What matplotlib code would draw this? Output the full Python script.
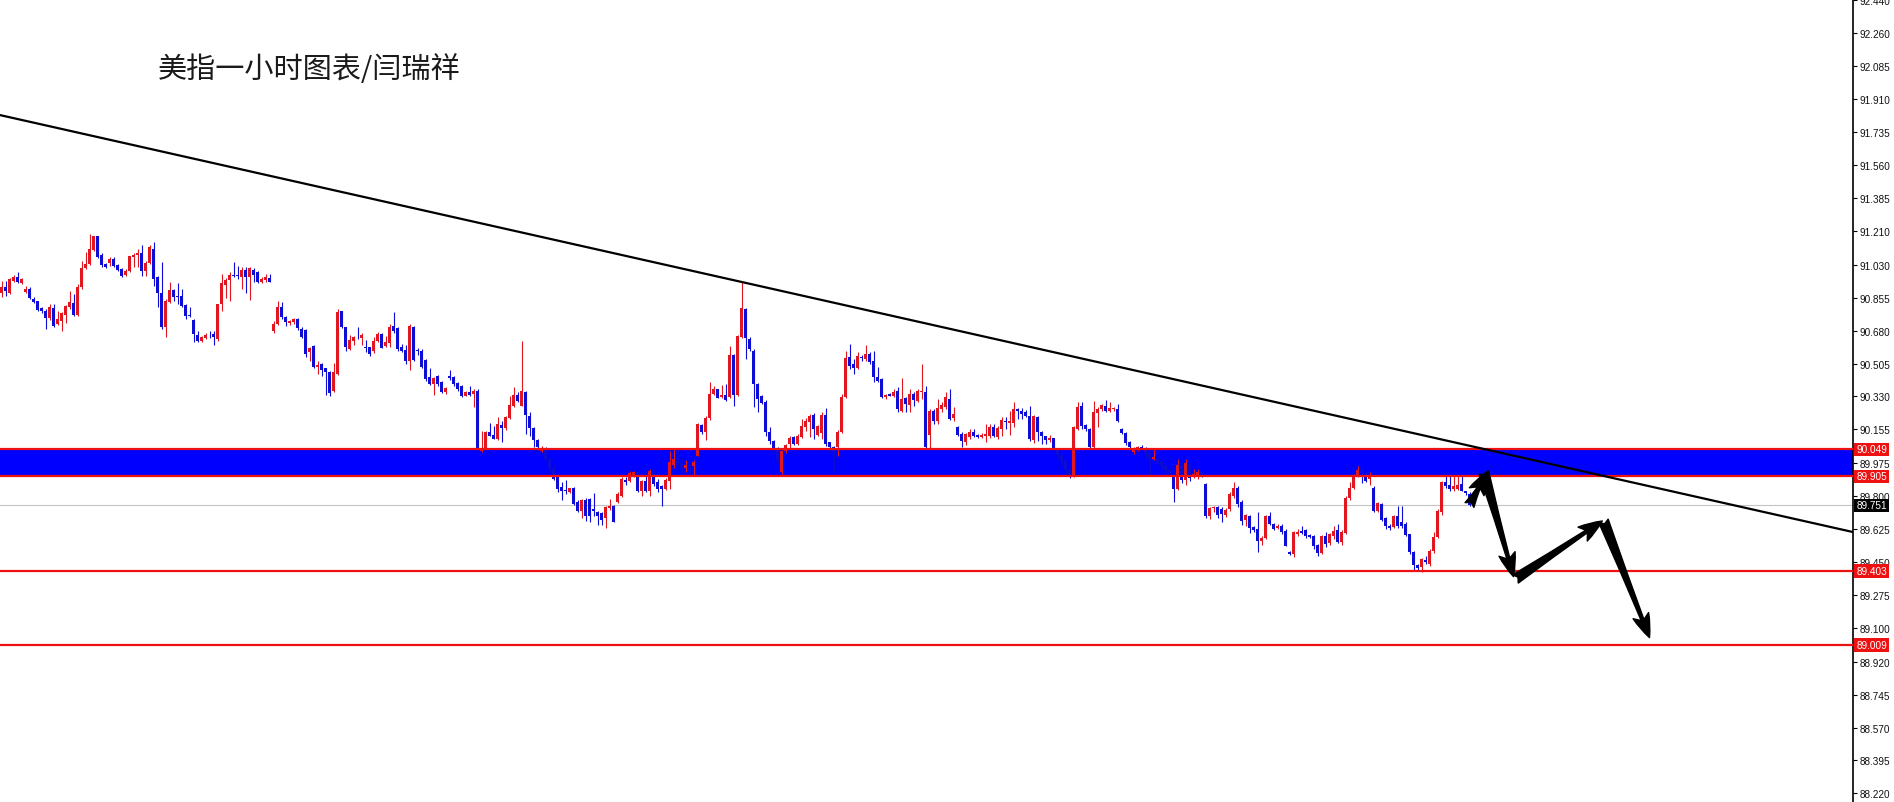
import matplotlib
matplotlib.use("Agg")
import numpy as np
from matplotlib import pyplot as plt
from matplotlib.patches import ArrowStyle
from matplotlib.transforms import blended_transform_factory

# USD index, 1h candles
opens = [
    90.878, 90.914, 90.882, 90.946, 90.963, 90.931, 90.887, 90.901, 90.848, 90.836,
    90.800, 90.786, 90.747, 90.800, 90.715, 90.733, 90.765, 90.807, 90.829, 90.761,
    90.910, 91.013, 91.034, 91.109, 91.181, 91.084, 91.034, 91.038, 91.061, 91.031,
    91.008, 90.976, 90.999, 91.073, 91.082, 91.093, 90.999, 91.041, 91.116, 90.963,
    90.882, 90.701, 90.830, 90.896, 90.866, 90.866, 90.818, 90.763, 90.737, 90.659,
    90.627, 90.641, 90.657, 90.662, 90.635, 90.822, 90.924, 90.949, 90.977, 90.976,
    90.963, 91.002, 90.963, 91.002, 90.990, 90.937, 90.949, 90.960, 90.676, 90.715,
    90.807, 90.754, 90.719, 90.724, 90.742, 90.689, 90.683, 90.565, 90.600, 90.488,
    90.503, 90.481, 90.462, 90.357, 90.449, 90.783, 90.698, 90.582, 90.627, 90.648,
    90.639, 90.595, 90.591, 90.574, 90.627, 90.663, 90.597, 90.615, 90.703, 90.693,
    90.592, 90.577, 90.521, 90.698, 90.579, 90.574, 90.526, 90.432, 90.397, 90.437,
    90.406, 90.352, 90.437, 90.432, 90.402, 90.384, 90.335, 90.356, 90.344, 90.361,
    90.042, 90.055, 90.140, 90.126, 90.104, 90.179, 90.161, 90.214, 90.278, 90.338,
    90.281, 90.356, 90.228, 90.161, 90.101, 90.042, 90.051, 90.000, 89.945, 89.901,
    89.847, 89.835, 89.821, 89.842, 89.768, 89.723, 89.782, 89.785, 89.732, 89.715,
    89.711, 89.683, 89.736, 89.750, 89.770, 89.803, 89.888, 89.883, 89.913, 89.927,
    89.830, 89.878, 89.830, 89.923, 89.874, 89.853, 89.839, 89.883, 89.963, 90.000,
    89.975, 89.950, 89.965, 89.960, 90.016, 90.179, 90.140, 90.214, 90.344, 90.367,
    90.326, 90.338, 90.326, 90.551, 90.338, 90.646, 90.795, 90.636, 90.574, 90.397,
    90.335, 90.303, 90.143, 90.095, 90.051, 89.927, 90.042, 90.078, 90.113, 90.078,
    90.113, 90.166, 90.193, 90.232, 90.126, 90.136, 90.232, 90.087, 90.060, 90.060,
    90.140, 90.326, 90.538, 90.503, 90.480, 90.538, 90.530, 90.556, 90.521, 90.432,
    90.423, 90.326, 90.343, 90.335, 90.361, 90.255, 90.320, 90.285, 90.343, 90.308,
    90.352, 90.356, 90.126, 90.255, 90.202, 90.264, 90.273, 90.317, 90.214, 90.166,
    90.131, 90.090, 90.113, 90.140, 90.126, 90.113, 90.122, 90.118, 90.166, 90.113,
    90.157, 90.202, 90.189, 90.189, 90.264, 90.255, 90.249, 90.225, 90.101, 90.219,
    90.140, 90.118, 90.101, 90.108, 90.051, 90.020, 89.985, 89.940, 89.909, 90.157,
    90.281, 90.179, 90.157, 90.060, 90.242, 90.264, 90.281, 90.251, 90.262, 90.264,
    90.157, 90.134, 90.086, 90.033, 90.045, 90.062, 90.058, 90.030, 90.000, 90.000,
    89.980, 89.960, 89.940, 89.906, 89.838, 89.966, 89.888, 89.971, 89.902, 89.909,
    89.930, 89.865, 89.697, 89.736, 89.741, 89.732, 89.700, 89.732, 89.803, 89.842,
    89.771, 89.675, 89.697, 89.634, 89.626, 89.564, 89.576, 89.697, 89.652, 89.629,
    89.643, 89.617, 89.505, 89.493, 89.599, 89.617, 89.622, 89.594, 89.590, 89.541,
    89.498, 89.590, 89.551, 89.590, 89.622, 89.555, 89.604, 89.789, 89.842, 89.906,
    89.940, 89.913, 89.892, 89.842, 89.723, 89.759, 89.682, 89.643, 89.635, 89.693,
    89.661, 89.652, 89.599, 89.502, 89.434, 89.422, 89.463, 89.440, 89.511, 89.582,
    89.718, 89.874, 89.860, 89.838, 89.840, 89.865, 89.829, 89.812,
]
highs = [
    90.946, 90.946, 90.960, 90.976, 90.990, 90.960, 90.919, 90.910, 90.861, 90.839,
    90.807, 90.795, 90.822, 90.822, 90.786, 90.777, 90.818, 90.889, 90.875, 90.928,
    91.052, 91.096, 91.194, 91.185, 91.183, 91.091, 91.038, 91.070, 91.073, 91.034,
    91.013, 91.008, 91.078, 91.091, 91.114, 91.135, 91.052, 91.137, 91.149, 90.972,
    91.043, 90.848, 90.937, 90.901, 90.931, 90.901, 90.822, 90.804, 90.742, 90.680,
    90.653, 90.666, 90.676, 90.676, 90.822, 90.981, 90.958, 90.990, 91.043, 91.025,
    91.020, 91.016, 91.020, 91.011, 90.999, 90.963, 90.981, 90.981, 90.729, 90.836,
    90.830, 90.760, 90.737, 90.747, 90.747, 90.698, 90.689, 90.595, 90.605, 90.520,
    90.506, 90.481, 90.467, 90.506, 90.795, 90.786, 90.701, 90.657, 90.653, 90.698,
    90.666, 90.630, 90.595, 90.645, 90.671, 90.666, 90.654, 90.716, 90.778, 90.698,
    90.609, 90.604, 90.716, 90.703, 90.586, 90.583, 90.530, 90.480, 90.432, 90.444,
    90.414, 90.382, 90.468, 90.437, 90.409, 90.391, 90.361, 90.388, 90.367, 90.367,
    90.144, 90.149, 90.189, 90.175, 90.219, 90.202, 90.228, 90.331, 90.379, 90.352,
    90.627, 90.361, 90.246, 90.166, 90.104, 90.069, 90.060, 90.010, 89.960, 89.910,
    89.874, 89.888, 89.845, 89.847, 89.777, 89.785, 89.789, 89.789, 89.817, 89.723,
    89.718, 89.745, 89.785, 89.754, 89.821, 89.901, 89.901, 89.936, 89.936, 89.936,
    89.888, 89.927, 89.945, 89.945, 89.892, 89.860, 89.895, 90.042, 90.051, 90.050,
    90.010, 89.990, 89.972, 89.990, 90.189, 90.184, 90.228, 90.406, 90.388, 90.370,
    90.391, 90.397, 90.597, 90.556, 90.657, 90.937, 90.800, 90.645, 90.583, 90.400,
    90.340, 90.310, 90.166, 90.100, 90.060, 90.045, 90.078, 90.122, 90.118, 90.130,
    90.211, 90.214, 90.237, 90.240, 90.180, 90.246, 90.267, 90.090, 90.065, 90.150,
    90.343, 90.574, 90.609, 90.530, 90.565, 90.551, 90.604, 90.565, 90.569, 90.485,
    90.430, 90.343, 90.350, 90.370, 90.379, 90.427, 90.326, 90.370, 90.352, 90.370,
    90.503, 90.388, 90.264, 90.264, 90.317, 90.303, 90.356, 90.367, 90.273, 90.172,
    90.140, 90.136, 90.157, 90.157, 90.130, 90.136, 90.184, 90.184, 90.184, 90.172,
    90.219, 90.219, 90.255, 90.299, 90.267, 90.267, 90.260, 90.278, 90.232, 90.225,
    90.149, 90.122, 90.126, 90.110, 90.055, 90.030, 89.995, 89.960, 90.175, 90.299,
    90.303, 90.184, 90.161, 90.308, 90.273, 90.290, 90.313, 90.300, 90.275, 90.290,
    90.160, 90.140, 90.093, 90.060, 90.069, 90.070, 90.060, 90.040, 90.053, 90.010,
    89.990, 89.970, 89.950, 89.920, 89.998, 89.980, 89.998, 89.980, 89.945, 89.945,
    89.935, 89.872, 89.740, 89.750, 89.746, 89.740, 89.735, 89.821, 89.874, 89.856,
    89.780, 89.705, 89.700, 89.640, 89.714, 89.590, 89.700, 89.714, 89.655, 89.650,
    89.650, 89.625, 89.510, 89.615, 89.626, 89.643, 89.626, 89.600, 89.595, 89.545,
    89.594, 89.608, 89.605, 89.643, 89.650, 89.620, 89.800, 89.874, 89.920, 89.960,
    89.958, 89.930, 89.930, 89.856, 89.768, 89.765, 89.690, 89.650, 89.700, 89.750,
    89.750, 89.660, 89.600, 89.510, 89.440, 89.470, 89.484, 89.520, 89.608, 89.730,
    89.880, 89.909, 89.909, 89.909, 89.909, 89.909, 89.830, 89.821,
]
lows = [
    90.861, 90.866, 90.875, 90.937, 90.931, 90.928, 90.880, 90.848, 90.825, 90.786,
    90.775, 90.689, 90.737, 90.701, 90.710, 90.676, 90.719, 90.795, 90.760, 90.758,
    90.901, 91.008, 91.031, 91.105, 91.066, 91.020, 91.011, 91.025, 91.020, 90.995,
    90.967, 90.972, 90.993, 91.020, 91.016, 90.972, 90.972, 91.034, 90.919, 90.804,
    90.689, 90.648, 90.825, 90.836, 90.822, 90.804, 90.742, 90.754, 90.621, 90.618,
    90.621, 90.634, 90.641, 90.605, 90.627, 90.783, 90.852, 90.839, 90.963, 90.954,
    90.901, 90.880, 90.843, 90.937, 90.931, 90.931, 90.937, 90.937, 90.667, 90.710,
    90.742, 90.706, 90.712, 90.715, 90.685, 90.641, 90.542, 90.517, 90.481, 90.449,
    90.437, 90.340, 90.334, 90.352, 90.446, 90.692, 90.570, 90.577, 90.605, 90.635,
    90.605, 90.565, 90.547, 90.561, 90.618, 90.588, 90.592, 90.592, 90.668, 90.574,
    90.565, 90.503, 90.473, 90.521, 90.551, 90.480, 90.414, 90.391, 90.338, 90.388,
    90.349, 90.344, 90.418, 90.388, 90.361, 90.326, 90.331, 90.335, 90.273, 90.037,
    90.033, 90.051, 90.118, 90.104, 90.101, 90.090, 90.154, 90.211, 90.273, 90.299,
    90.278, 90.131, 90.122, 90.060, 90.042, 90.037, 89.990, 89.930, 89.885, 89.821,
    89.777, 89.812, 89.817, 89.754, 89.718, 89.683, 89.670, 89.661, 89.697, 89.647,
    89.644, 89.630, 89.729, 89.661, 89.765, 89.794, 89.860, 89.874, 89.901, 89.824,
    89.800, 89.824, 89.800, 89.856, 89.821, 89.746, 89.835, 89.838, 89.948, 89.960,
    89.930, 89.930, 89.918, 89.905, 90.012, 90.131, 90.096, 90.207, 90.338, 90.320,
    90.321, 90.308, 90.321, 90.281, 90.335, 90.640, 90.529, 90.574, 90.273, 90.246,
    90.290, 90.118, 90.078, 90.030, 89.970, 89.918, 90.030, 90.051, 90.070, 90.070,
    90.110, 90.149, 90.113, 90.104, 90.120, 90.104, 90.065, 90.030, 89.936, 90.016,
    90.135, 90.320, 90.476, 90.450, 90.476, 90.521, 90.521, 90.503, 90.405, 90.405,
    90.320, 90.317, 90.330, 90.326, 90.246, 90.249, 90.246, 90.249, 90.281, 90.303,
    90.317, 90.051, 90.051, 90.184, 90.184, 90.249, 90.264, 90.207, 90.202, 90.122,
    90.060, 90.072, 90.104, 90.113, 90.110, 90.108, 90.087, 90.108, 90.113, 90.104,
    90.122, 90.157, 90.126, 90.166, 90.211, 90.211, 90.219, 90.095, 90.083, 90.095,
    90.078, 90.078, 90.087, 90.042, 89.995, 89.960, 89.915, 89.895, 89.900, 90.154,
    90.157, 90.149, 90.055, 90.055, 90.166, 90.255, 90.246, 90.245, 90.255, 90.193,
    90.130, 90.072, 90.050, 90.025, 90.040, 90.050, 90.000, 89.910, 89.990, 89.970,
    89.940, 89.920, 89.910, 89.771, 89.835, 89.870, 89.860, 89.880, 89.895, 89.890,
    89.900, 89.686, 89.680, 89.714, 89.682, 89.661, 89.690, 89.720, 89.790, 89.741,
    89.647, 89.643, 89.604, 89.610, 89.505, 89.540, 89.570, 89.646, 89.620, 89.625,
    89.600, 89.535, 89.486, 89.475, 89.590, 89.600, 89.575, 89.575, 89.520, 89.480,
    89.490, 89.530, 89.540, 89.570, 89.550, 89.540, 89.600, 89.780, 89.836, 89.900,
    89.870, 89.876, 89.860, 89.714, 89.715, 89.670, 89.625, 89.620, 89.630, 89.630,
    89.630, 89.590, 89.495, 89.405, 89.400, 89.396, 89.440, 89.430, 89.500, 89.580,
    89.700, 89.845, 89.830, 89.830, 89.835, 89.825, 89.806, 89.750,
]
closes = [
    90.914, 90.889, 90.954, 90.967, 90.937, 90.954, 90.900, 90.852, 90.830, 90.791,
    90.783, 90.745, 90.804, 90.706, 90.740, 90.772, 90.811, 90.832, 90.763, 90.910,
    91.013, 91.034, 91.114, 91.181, 91.073, 91.031, 91.020, 91.059, 91.025, 91.002,
    90.972, 90.999, 91.077, 91.084, 91.091, 90.999, 91.040, 91.123, 90.954, 90.878,
    90.698, 90.836, 90.896, 90.861, 90.857, 90.813, 90.760, 90.760, 90.662, 90.627,
    90.644, 90.659, 90.655, 90.648, 90.822, 90.931, 90.951, 90.976, 90.972, 90.972,
    91.002, 90.963, 91.011, 90.977, 90.937, 90.954, 90.967, 90.940, 90.715, 90.804,
    90.751, 90.724, 90.733, 90.742, 90.692, 90.648, 90.556, 90.588, 90.488, 90.499,
    90.472, 90.458, 90.347, 90.458, 90.777, 90.698, 90.591, 90.630, 90.648, 90.644,
    90.659, 90.588, 90.556, 90.627, 90.663, 90.588, 90.622, 90.698, 90.680, 90.583,
    90.574, 90.521, 90.707, 90.526, 90.569, 90.485, 90.423, 90.397, 90.427, 90.397,
    90.352, 90.375, 90.427, 90.397, 90.367, 90.331, 90.352, 90.338, 90.358, 90.051,
    90.055, 90.143, 90.122, 90.106, 90.184, 90.161, 90.219, 90.285, 90.338, 90.308,
    90.361, 90.232, 90.161, 90.101, 90.060, 90.055, 90.000, 89.945, 89.893, 89.839,
    89.830, 89.830, 89.842, 89.759, 89.723, 89.777, 89.693, 89.697, 89.723, 89.697,
    89.675, 89.741, 89.750, 89.665, 89.810, 89.892, 89.874, 89.923, 89.927, 89.830,
    89.878, 89.830, 89.936, 89.865, 89.839, 89.839, 89.888, 89.980, 89.998, 89.975,
    89.950, 89.965, 89.960, 89.980, 90.184, 90.140, 90.214, 90.344, 90.367, 90.321,
    90.338, 90.313, 90.551, 90.338, 90.654, 90.799, 90.640, 90.583, 90.397, 90.317,
    90.296, 90.140, 90.095, 90.051, 89.990, 90.042, 90.070, 90.108, 90.078, 90.122,
    90.175, 90.202, 90.225, 90.157, 90.175, 90.232, 90.078, 90.060, 90.040, 90.143,
    90.326, 90.533, 90.494, 90.480, 90.547, 90.533, 90.556, 90.512, 90.432, 90.414,
    90.326, 90.338, 90.335, 90.356, 90.264, 90.317, 90.290, 90.343, 90.313, 90.361,
    90.361, 90.060, 90.255, 90.202, 90.267, 90.285, 90.326, 90.211, 90.237, 90.126,
    90.095, 90.131, 90.140, 90.118, 90.113, 90.126, 90.131, 90.166, 90.122, 90.161,
    90.207, 90.193, 90.202, 90.264, 90.255, 90.237, 90.228, 90.104, 90.225, 90.140,
    90.118, 90.101, 90.108, 90.051, 90.020, 89.985, 89.940, 89.920, 90.166, 90.273,
    90.175, 90.157, 90.060, 90.249, 90.264, 90.285, 90.255, 90.270, 90.268, 90.197,
    90.134, 90.083, 90.059, 90.051, 90.060, 90.058, 90.030, 90.000, 90.010, 89.980,
    89.960, 89.940, 89.930, 89.838, 89.966, 89.888, 89.977, 89.895, 89.918, 89.930,
    89.920, 89.697, 89.736, 89.741, 89.700, 89.705, 89.729, 89.812, 89.842, 89.759,
    89.670, 89.700, 89.629, 89.622, 89.564, 89.576, 89.697, 89.652, 89.626, 89.643,
    89.612, 89.537, 89.493, 89.608, 89.608, 89.605, 89.590, 89.581, 89.534, 89.498,
    89.587, 89.546, 89.599, 89.617, 89.558, 89.612, 89.789, 89.842, 89.906, 89.940,
    89.930, 89.883, 89.913, 89.723, 89.764, 89.675, 89.640, 89.629, 89.693, 89.640,
    89.640, 89.594, 89.502, 89.434, 89.416, 89.466, 89.449, 89.511, 89.582, 89.723,
    89.874, 89.853, 89.838, 89.856, 89.860, 89.829, 89.817, 89.751,
]

# levels drawn on the chart
band_low, band_high = 89.905, 90.049
support_levels = [89.403, 89.009]
last_price = 89.751
trend_x = [-0.4, 462.9]
trend_y = [91.826, 89.609]

# hand drawn forecast arrows (bar index, price)
arrow_tails = [(367.0, 89.753), (370.6, 89.925), (378.5, 89.360), (400.5, 89.668)]
arrow_tips = [(371.6, 89.934), (378.0, 89.372), (400.2, 89.668), (412.0, 89.048)]

tick_values = [92.440, 92.260, 92.085, 91.910, 91.735, 91.560, 91.385, 91.210, 91.030,
               90.855, 90.680, 90.505, 90.330, 90.155, 89.975, 89.800, 89.625, 89.450,
               89.275, 89.100, 88.920, 88.745, 88.570, 88.395, 88.220]

title = "美指一小时图表/闫瑞祥"

BULL = "#e2161f"
BEAR = "#0d0dd6"
LINE_RED = "#ee1111"

n = min(len(opens), len(highs), len(lows), len(closes))
o = np.array(opens[:n])
h = np.array(highs[:n])
l = np.array(lows[:n])
c = np.array(closes[:n])
x = np.arange(n)

fig = plt.figure(figsize=(18.94, 8.03), dpi=100)
ax = fig.add_axes([0, 0, 1853 / 1894, 1])
ax.set_xlim(-0.375, 462.875)
ax.set_ylim(88.174, 92.443)

# blue resistance band under the candles
ax.axhspan(band_low, band_high, color="#0000ff", lw=0, zorder=1)

cols = np.where(c > o, BULL, BEAR)
ax.vlines(x, l, h, colors=cols, lw=0.8, zorder=2)
bottom = np.minimum(o, c)
height = np.maximum(np.abs(c - o), 0.004)
ax.bar(x, height, bottom=bottom, width=0.74, color=cols, lw=0, zorder=3)

for lvl in [band_low, band_high] + support_levels:
    ax.axhline(lvl, color=LINE_RED, lw=1.6, zorder=4)
ax.axhline(last_price, color="#c4c4c4", lw=0.8, zorder=1.5)

ax.plot(trend_x, trend_y, color="black", lw=1.6, zorder=5, solid_capstyle="butt")

style = ArrowStyle.Fancy(head_length=0.85, head_width=0.6, tail_width=0.36)
for tail, tip in zip(arrow_tails, arrow_tips):
    ax.annotate("", xy=tip, xytext=tail,
                arrowprops=dict(arrowstyle=style, color="black", mutation_scale=20,
                                shrinkA=0, shrinkB=0), zorder=6)

# axis look like the terminal
for s in ["top", "bottom", "left"]:
    ax.spines[s].set_visible(False)
ax.spines["right"].set_linewidth(1.2)
ax.set_xticks([])
ax.yaxis.tick_right()
ax.set_yticks(tick_values)
ax.set_yticklabels([f"{v:.3f}" for v in tick_values])
ax.tick_params(axis="y", direction="out", length=3, width=0.8, pad=2,
               labelsize=7.2, labelcolor="#111111")
for lab in ax.get_yticklabels():
    lab.set_family(["Liberation Sans", "DejaVu Sans"])

tr = blended_transform_factory(ax.transAxes, ax.transData)
for lvl in [band_high, band_low] + support_levels:
    ax.text(1.0017, lvl, f"{lvl:.3f}", transform=tr, ha="left", va="center",
            fontsize=7.2, color="white", family=["Liberation Sans", "DejaVu Sans"],
            bbox=dict(boxstyle="square,pad=0.18", fc=LINE_RED, ec="none"), zorder=7)
ax.text(1.0017, last_price, f"{last_price:.3f}", transform=tr, ha="left", va="center",
        fontsize=7.2, color="white", family=["Liberation Sans", "DejaVu Sans"],
        bbox=dict(boxstyle="square,pad=0.18", fc="black", ec="none"), zorder=7)

fig.text(158 / 1894, 1 - 70 / 803, title, fontsize=21, va="center", ha="left",
         color="#1a1a1a", family=["Noto Sans CJK SC", "DejaVu Sans"])

fig.savefig("out.png", dpi=100)
